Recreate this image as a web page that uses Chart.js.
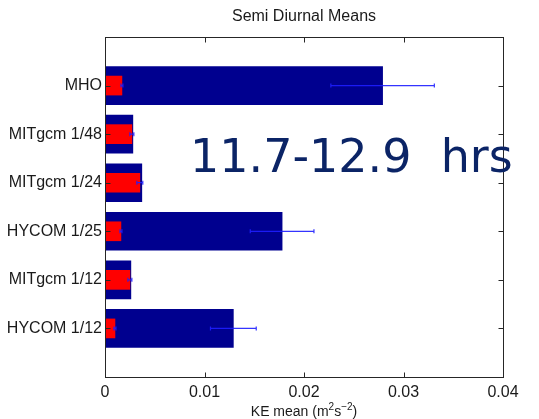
<!DOCTYPE html>
<html>
<head>
<meta charset="utf-8">
<script src="https://cdn.jsdelivr.net/npm/chart.js@4"></script>
<style>
  html, body { margin: 0; padding: 0; background: #ffffff; }
  #wrap { width: 539px; height: 419px; position: relative; }
</style>
</head>
<body>
<div id="wrap"><canvas id="chart" width="539" height="419"></canvas></div>
<script>
// model runs, top to bottom (empty slots pad the axis like the original figure)
const categories = ['', 'MHO', 'MITgcm 1/48', 'MITgcm 1/24', 'HYCOM 1/25', 'MITgcm 1/12', 'HYCOM 1/12', ''];

// wide blue bars and their error
const blueValues = [null, 0.0279, 0.0028, 0.0037, 0.0178, 0.0026, 0.0129, null];
const blueErrors = [null, 0.0052, 0, 0, 0.0032, 0, 0.0023, null];

// narrow red bars and their error
const redValues = [null, 0.0017, 0.0027, 0.0035, 0.0016, 0.0025, 0.0010, null];
const redErrors = [null, 0.0001, 0.0002, 0.0003, 0.0001, 0.0002, 0.0001, null];

const xTicks = [0, 0.01, 0.02, 0.03, 0.04];

const chartTitle = 'Semi Diurnal Means';
// x label pieces: [text, superscript?]
const xTitleParts = [['KE mean (m', false], ['2', true], ['s', false], ['\u22122', true], [')', false]];
const bandNote = '11.7-12.9  hrs';

const FONT = "'Liberation Sans', Arial, sans-serif";

// error bars, box frame with inward ticks, titles and band note
const decorPlugin = {
  id: 'decor',
  afterDatasetsDraw(chart) {
    const ctx = chart.ctx;
    const xs = chart.scales.x, ys = chart.scales.y;
    ctx.save();
    ctx.strokeStyle = 'rgba(30,30,255,0.9)';
    ctx.lineWidth = 1.2;
    const drawErr = (vals, errs) => {
      vals.forEach((v, i) => {
        if (v == null || !errs[i]) return;
        const y = ys.getPixelForValue(i);
        const x0 = xs.getPixelForValue(v - errs[i]);
        const x1 = xs.getPixelForValue(v + errs[i]);
        ctx.beginPath();
        ctx.moveTo(x0, y); ctx.lineTo(x1, y);
        ctx.moveTo(x0, y - 2); ctx.lineTo(x0, y + 2);
        ctx.moveTo(x1, y - 2); ctx.lineTo(x1, y + 2);
        ctx.stroke();
      });
    };
    drawErr(blueValues, blueErrors);
    drawErr(redValues, redErrors);
    ctx.restore();
  },
  afterDraw(chart) {
    const ctx = chart.ctx;
    const a = chart.chartArea;
    const xs = chart.scales.x, ys = chart.scales.y;
    ctx.save();
    ctx.strokeStyle = '#262626';
    ctx.lineWidth = 1;
    const L = Math.round(a.left) + 0.5, R = Math.round(a.right) + 0.5;
    const T = Math.round(a.top) + 0.5, B = Math.round(a.bottom) + 0.5;
    ctx.strokeRect(L, T, R - L, B - T);
    ctx.beginPath();
    xTicks.forEach(v => {
      const x = Math.round(xs.getPixelForValue(v)) + 0.5;
      ctx.moveTo(x, T); ctx.lineTo(x, T + 5);
      ctx.moveTo(x, B); ctx.lineTo(x, B - 5);
    });
    categories.forEach((c, i) => {
      if (!c) return;
      const y = Math.round(ys.getPixelForValue(i)) + 0.5;
      ctx.moveTo(L, y); ctx.lineTo(L + 5, y);
      ctx.moveTo(R, y); ctx.lineTo(R - 5, y);
    });
    ctx.stroke();

    const cx = (a.left + a.right) / 2;
    ctx.fillStyle = '#1a1a1a';
    ctx.font = '16px ' + FONT;
    ctx.textAlign = 'center';
    ctx.textBaseline = 'middle';
    ctx.fillText(chartTitle, cx, 17);

    // x axis label with raised exponents
    ctx.textAlign = 'left';
    ctx.textBaseline = 'alphabetic';
    const fontFor = sup => (sup ? '10px ' : '14px ') + FONT;
    let total = 0;
    xTitleParts.forEach(([t, sup]) => { ctx.font = fontFor(sup); total += ctx.measureText(t).width; });
    let x = cx - total / 2;
    const base = 416;
    xTitleParts.forEach(([t, sup]) => {
      ctx.font = fontFor(sup);
      ctx.fillText(t, x, sup ? base - 6 : base);
      x += ctx.measureText(t).width;
    });

    ctx.fillStyle = '#0b2466';
    ctx.font = "46px 'DejaVu Sans', sans-serif";
    ctx.fillText(bandNote, 190, 172);
    ctx.restore();
  }
};

new Chart(document.getElementById('chart'), {
  type: 'bar',
  data: {
    labels: categories,
    datasets: [
      {
        label: 'red',
        data: redValues,
        backgroundColor: '#ff0000',
        barThickness: 19,
        grouped: false,
        order: 0
      },
      {
        label: 'blue',
        data: blueValues,
        backgroundColor: '#00008f',
        barThickness: 38,
        grouped: false,
        order: 1
      }
    ]
  },
  options: {
    indexAxis: 'y',
    responsive: false,
    animation: false,
    layout: { padding: { top: 37, right: 36, left: 0, bottom: 0 } },
    plugins: {
      legend: { display: false },
      title: { display: false },
      tooltip: { enabled: false }
    },
    scales: {
      x: {
        min: 0,
        max: 0.04,
        afterBuildTicks: scale => { scale.ticks = xTicks.map(v => ({ value: v })); },
        grid: { display: false, drawTicks: false },
        border: { display: false },
        ticks: {
          color: '#1a1a1a',
          font: { family: FONT, size: 16 },
          padding: 6,
          maxRotation: 0,
          callback: v => v === 0 ? '0' : String(+v.toFixed(2))
        },
        afterFit: scale => { scale.height = 42; }
      },
      y: {
        offset: false,
        grid: { display: false, drawTicks: false },
        border: { display: false },
        ticks: {
          color: '#1a1a1a',
          font: { family: FONT, size: 16 },
          padding: 3,
          autoSkip: false
        },
        afterFit: scale => { scale.width = 105; }
      }
    }
  },
  plugins: [decorPlugin]
});
</script>
</body>
</html>
